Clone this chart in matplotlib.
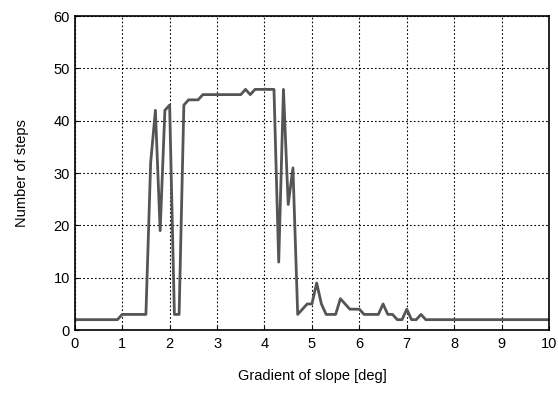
import numpy as np
import matplotlib
matplotlib.use('Agg')
import matplotlib.pyplot as plt

plt.rcParams['font.family'] = ['Liberation Sans', 'DejaVu Sans']

# gradient of slope [deg], sampled every 0.1 deg
gradient = np.round(np.arange(0, 10.01, 0.1), 1)

# number of steps
steps = [2, 2, 2, 2, 2, 2, 2, 2, 2, 2,          # 0.0 - 0.9
         3, 3, 3, 3, 3, 3, 32, 42, 19, 42,      # 1.0 - 1.9
         43, 3, 3, 43, 44, 44, 44, 45, 45, 45,  # 2.0 - 2.9
         45, 45, 45, 45, 45, 45, 46, 45, 46, 46,  # 3.0 - 3.9
         46, 46, 46, 13, 46, 24, 31, 3, 4, 5,   # 4.0 - 4.9
         5, 9, 5, 3, 3, 3, 6, 5, 4, 4,          # 5.0 - 5.9
         4, 3, 3, 3, 3, 5, 3, 3, 2, 2,          # 6.0 - 6.9
         4, 2, 2, 3, 2, 2, 2, 2, 2, 2,          # 7.0 - 7.9
         2, 2, 2, 2, 2, 2, 2, 2, 2, 2,          # 8.0 - 8.9
         2, 2, 2, 2, 2, 2, 2, 2, 2, 2,          # 9.0 - 9.9
         2]                                     # 10.0

fig = plt.figure(figsize=(5.58, 3.93), dpi=100)
ax = fig.add_axes([0.134, 0.160, 0.850, 0.799])

ax.plot(gradient, steps, color='#555555', linewidth=2)

ax.set_xlim(0, 10)
ax.set_ylim(0, 60)
ax.set_xticks(range(0, 11))
ax.set_yticks(range(0, 61, 10))
ax.grid(True, color='black', linestyle=(0, (1.5, 2)), linewidth=0.8)
ax.tick_params(direction='in', length=3, labelsize=10.5)
ax.tick_params(axis='x', pad=5)
for s in ax.spines.values():
    s.set_linewidth(1.2)

ax.set_xlabel('Gradient of slope [deg]', fontsize=10.5, labelpad=13)
ax.set_ylabel('Number of steps', fontsize=10.5, labelpad=18)

fig.savefig('out.png', dpi=100)
